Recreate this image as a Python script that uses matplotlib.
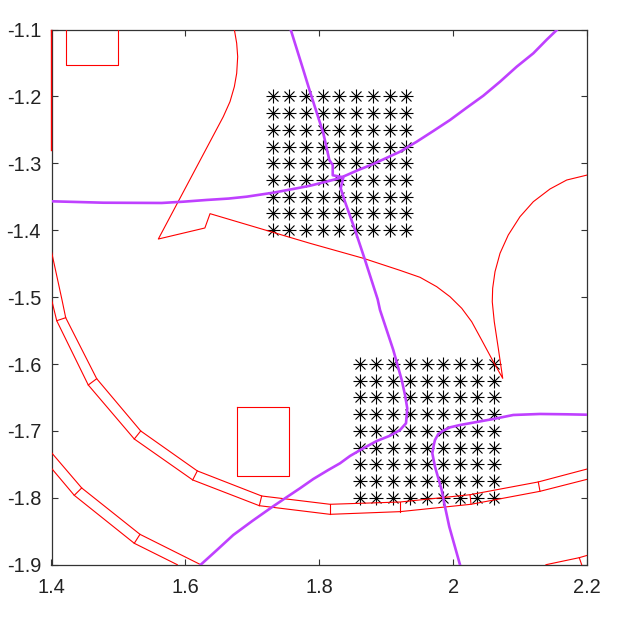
import matplotlib
matplotlib.use("Agg")
import matplotlib.pyplot as plt

plt.rcParams['font.family'] = ['Liberation Sans', 'DejaVu Sans']

# tick labels
x_ticks = [1.4, 1.6, 1.8, 2.0, 2.2]
x_labels = ['1.4', '1.6', '1.8', '2', '2.2']
y_ticks = [-1.1, -1.2, -1.3, -1.4, -1.5, -1.6, -1.7, -1.8, -1.9]
y_labels = ['-1.1', '-1.2', '-1.3', '-1.4', '-1.5', '-1.6', '-1.7', '-1.8', '-1.9']

# star grids
grid1_x = [1.73, 1.755, 1.78, 1.805, 1.83, 1.855, 1.88, 1.905, 1.93]
grid1_y = [-1.2, -1.225, -1.25, -1.275, -1.3, -1.325, -1.35, -1.375, -1.4]
grid2_x = [1.86, 1.885, 1.91, 1.935, 1.96, 1.985, 2.01, 2.035, 2.06]
grid2_y = [-1.6, -1.625, -1.65, -1.675, -1.7, -1.725, -1.75, -1.775, -1.8]

# purple lines
p1_x = [1.4, 1.4773, 1.5645, 1.5968, 1.6317, 1.6645, 1.6914, 1.7312, 1.7661, 1.786, 1.8102, 1.8308, 1.8581, 1.8805,
        1.9203, 1.9453, 1.9701, 1.995, 2.0199, 2.0447, 2.0697, 2.0946, 2.1194, 2.1394, 2.1552]
p1_y = [-1.3568, -1.3589, -1.3593, -1.3574, -1.3548, -1.3527, -1.3499, -1.3439, -1.3374, -1.3335, -1.3275, -1.322, -1.31, -1.301,
        -1.2827, -1.2677, -1.2517, -1.2353, -1.2169, -1.199, -1.178, -1.1556, -1.1356, -1.1152, -1.1]
p2_x = [1.7571, 1.776, 1.786, 1.8059, 1.8148, 1.8199, 1.8199, 1.8357, 1.8318, 1.8382, 1.8532, 1.8681, 1.887, 1.8905, 1.9103,
        1.9229, 1.9278, 1.9312, 1.9293, 1.9203, 1.9054, 1.8856, 1.8655, 1.8457, 1.8308, 1.8133, 1.7909, 1.771, 1.7486, 1.7288,
        1.70, 1.6714, 1.6475, 1.6228]
p2_y = [-1.1, -1.1605, -1.193, -1.2552, -1.295, -1.3025, -1.3179, -1.3209, -1.3374, -1.3574, -1.3997, -1.4445, -1.5033, -1.5193, -1.579,
        -1.6239, -1.6463, -1.6662, -1.6886, -1.6987, -1.7072, -1.7151, -1.726, -1.7375, -1.7484, -1.7584, -1.7719, -1.7858, -1.8008, -1.8142,
        -1.8345, -1.8556, -1.8776, -1.9]
p3_x = [2.2, 2.1692, 2.1294, 2.0895, 2.0597, 2.0099, 1.995, 1.9851, 1.9775, 1.9726, 1.971, 1.9686, 1.9726, 1.9826, 1.9875, 1.9939, 2.0099]
p3_y = [-1.6758, -1.6752, -1.6747, -1.6762, -1.6822, -1.6912, -1.6947, -1.6995, -1.7047, -1.7136, -1.72, -1.7335, -1.7535, -1.7884, -1.8133, -1.8431, -1.9]

# red outlines
box1_x = [1.4217, 1.4217, 1.5, 1.5]
box1_y = [-1.1, -1.153, -1.153, -1.1]
box2_x = [1.6775, 1.7551, 1.7551, 1.6775, 1.6775]
box2_y = [-1.6638, -1.6638, -1.7678, -1.7678, -1.6638]
edge_x = [1.4, 1.4]
edge_y = [-1.1, -1.28]
r1_x = [1.673, 1.6765, 1.678, 1.6765, 1.673, 1.6665, 1.6565, 1.5595, 1.629, 1.6367, 1.786, 1.8656, 1.9203, 1.9502, 1.9751, 1.995,
        2.0125, 2.0274, 2.0423, 2.0597, 2.0737, 2.0671, 2.0611, 2.0581, 2.0587, 2.0622, 2.0697, 2.082, 2.0995, 2.1194, 2.1443, 2.1692, 2.2]
r1_y = [-1.1, -1.1206, -1.1407, -1.1655, -1.1855, -1.2079, -1.2303, -1.4132, -1.3967, -1.3753, -1.4196, -1.442, -1.46, -1.4704, -1.4844, -1.4994,
        -1.5167, -1.5368, -1.5642, -1.5966, -1.6214, -1.5765, -1.5368, -1.5069, -1.4868, -1.462, -1.4345, -1.4072, -1.3798, -1.3574, -1.3384, -1.325, -1.3175]

# road bands, upper and lower edge with a cross line at each joint
b1_up_x = [1.4, 1.4157, 1.4212, 1.4675, 1.5332, 1.6177, 1.7138, 1.8158, 1.9203, 2.0249, 2.1268, 2.2]
b1_up_y = [-1.432, -1.5043, -1.5308, -1.622, -1.7001, -1.7598, -1.7973, -1.8097, -1.8063, -1.7954, -1.7763, -1.7569]
b1_lo_x = [1.4, 1.4, 1.4078, 1.4549, 1.5236, 1.6108, 1.7103, 1.8158, 1.9203, 2.0264, 2.1294, 2.2]
b1_lo_y = [-1.5033, -1.5033, -1.5353, -1.6314, -1.7121, -1.7733, -1.8118, -1.8247, -1.8207, -1.8097, -1.7903, -1.7723]
b2_up_x = [1.4, 1.4451, 1.5321, 1.6228]
b2_up_y = [-1.7325, -1.7853, -1.8546, -1.9]
b2_lo_x = [1.4, 1.434, 1.5236, 1.5878]
b2_lo_y = [-1.7559, -1.7963, -1.868, -1.9]
b3_x = [2.1383, 2.188, 2.2]
b3_y = [-1.9, -1.8895, -1.886]
b3_cross_x = [2.188, 2.1916]
b3_cross_y = [-1.8895, -1.9]

RED = '#ff0000'
PURPLE = '#bf40ff'

fig = plt.figure(figsize=(6.2, 6.19), dpi=100)
ax = fig.add_axes([51.5 / 620, 1 - 564.7 / 619, 535.8 / 620, 535.2 / 619])

for gx, gy in [(grid1_x, grid1_y), (grid2_x, grid2_y)]:
    xs = [a for a in gx for b in gy]
    ys = [b for a in gx for b in gy]
    ax.plot(xs, ys, ls='none', marker='+', ms=10, mew=0.8, color='black', zorder=2)
    ax.plot(xs, ys, ls='none', marker='x', ms=7.2, mew=0.8, color='black', zorder=2)

red_kw = dict(color=RED, lw=0.8, zorder=3)
ax.plot(box1_x, box1_y, **red_kw)
ax.plot(box2_x, box2_y, **red_kw)
ax.plot(edge_x, edge_y, color=RED, lw=1.0, zorder=4, clip_on=False)
ax.plot(r1_x, r1_y, **red_kw)
ax.plot(b1_up_x, b1_up_y, **red_kw)
ax.plot(b1_lo_x, b1_lo_y, **red_kw)
ax.plot(b2_up_x, b2_up_y, **red_kw)
ax.plot(b2_lo_x, b2_lo_y, **red_kw)
ax.plot(b3_x, b3_y, **red_kw)
ax.plot(b3_cross_x, b3_cross_y, **red_kw)

# cross lines, skip the ones on the axis
for i in range(2, len(b1_up_x) - 1):
    ax.plot([b1_up_x[i], b1_lo_x[i]], [b1_up_y[i], b1_lo_y[i]], **red_kw)
for i in range(1, len(b2_up_x) - 1):
    ax.plot([b2_up_x[i], b2_lo_x[i]], [b2_up_y[i], b2_lo_y[i]], **red_kw)

for px, py in [(p1_x, p1_y), (p2_x, p2_y), (p3_x, p3_y)]:
    ax.plot(px, py, color=PURPLE, lw=1.9, zorder=5)

ax.set_xlim(1.4, 2.2)
ax.set_ylim(-1.9, -1.1)
ax.set_xticks(x_ticks)
ax.set_xticklabels(x_labels, fontsize=14.4, color='#222222')
ax.set_yticks(y_ticks)
ax.set_yticklabels(y_labels, fontsize=14.4, color='#222222')
ax.tick_params(direction='in', length=4, width=0.8, top=True, right=True, color='#333333')
ax.tick_params(axis='x', pad=9.5)
ax.tick_params(axis='y', pad=7.5)
for s in ax.spines.values():
    s.set_linewidth(0.9)
    s.set_color('#333333')

fig.savefig('out.png', dpi=100)
